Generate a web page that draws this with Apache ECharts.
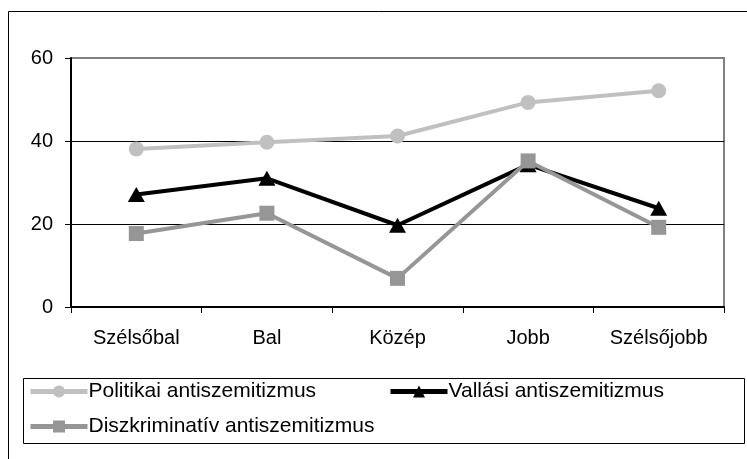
<!DOCTYPE html>
<html>
<head>
<meta charset="utf-8">
<script src="https://cdn.jsdelivr.net/npm/echarts@6/dist/echarts.min.js"></script>
<style>
html,body{margin:0;padding:0;background:#fff;}
#chart{width:747px;height:459px;}
</style>
</head>
<body>
<div id="chart"></div>
<script>
const categories = ['Szélsőbal', 'Bal', 'Közép', 'Jobb', 'Szélsőjobb'];
const politikai = [38.1, 39.7, 41.2, 49.3, 52.1];
const vallasi = [27.1, 31.0, 19.7, 34.3, 23.8];
const diszkriminativ = [17.7, 22.6, 6.9, 35.2, 19.2];
const seriesNames = ['Politikai antiszemitizmus', 'Vallási antiszemitizmus', 'Diszkriminatív antiszemitizmus'];
const yTicks = [0, 20, 40, 60];

const FONT = '"Liberation Sans", Arial, sans-serif';
const chart = echarts.init(document.getElementById('chart'), null, {renderer: 'canvas'});

const legendText = {fontFamily: FONT, fontSize: 21, color: '#000', padding: [0, 0, 0, -4]};
const legendBase = {itemWidth: 57, itemHeight: 15, textStyle: legendText, itemGap: 0, padding: 0, lineStyle: {width: 5}};
const option = {
  backgroundColor: '#fff',
  animation: false,
  textStyle: {fontFamily: FONT},
  grid: {left: 71, right: 23, top: 58, bottom: 152, show: true, borderColor: '#808080', borderWidth: 2, backgroundColor: 'transparent'},
  graphic: [
    {type: 'rect', shape: {x: 8.5, y: 11.5, width: 780, height: 480}, style: {fill: 'none', stroke: '#000', lineWidth: 1}, z: -1},
    {type: 'rect', shape: {x: 23.5, y: 378.5, width: 721, height: 65}, style: {fill: '#fff', stroke: '#000', lineWidth: 1}, z: 0}
  ],
  legend: [
    Object.assign({data: [seriesNames[0]], left: 28, top: 381}, legendBase),
    Object.assign({data: [seriesNames[1]], left: 388, top: 381}, legendBase),
    Object.assign({data: [seriesNames[2]], left: 28, top: 416}, legendBase)
  ],
  xAxis: {
    type: 'category',
    data: categories,
    boundaryGap: true,
    axisLine: {lineStyle: {color: '#000', width: 2}},
    axisTick: {show: true, length: 6, inside: false, lineStyle: {color: '#000', width: 1}},
    axisLabel: {fontFamily: FONT, fontSize: 20, color: '#000', margin: 21, interval: 0},
    splitLine: {show: false}
  },
  yAxis: {
    type: 'value',
    min: yTicks[0],
    max: yTicks[yTicks.length - 1],
    interval: 20,
    axisLine: {show: true, lineStyle: {color: '#000', width: 2}},
    axisTick: {show: true, length: 6, lineStyle: {color: '#000', width: 1}},
    axisLabel: {fontFamily: FONT, fontSize: 20, color: '#000', margin: 18},
    splitLine: {show: true, lineStyle: {color: ['#000', '#000', '#000', '#808080'], width: 1}}
  },
  series: [
    {
      name: seriesNames[0], type: 'line', data: politikai,
      symbol: 'circle', symbolSize: 15,
      lineStyle: {color: '#c0c0c0', width: 4},
      itemStyle: {color: '#c0c0c0'},
      z: 2
    },
    {
      name: seriesNames[1], type: 'line', data: vallasi,
      symbol: 'triangle', symbolSize: [17, 15],
      lineStyle: {color: '#000', width: 4},
      itemStyle: {color: '#000'},
      z: 3
    },
    {
      name: seriesNames[2], type: 'line', data: diszkriminativ,
      symbol: 'rect', symbolSize: 15,
      lineStyle: {color: '#969696', width: 4},
      itemStyle: {color: '#969696'},
      z: 4
    }
  ]
};
chart.setOption(option);
</script>
</body>
</html>
